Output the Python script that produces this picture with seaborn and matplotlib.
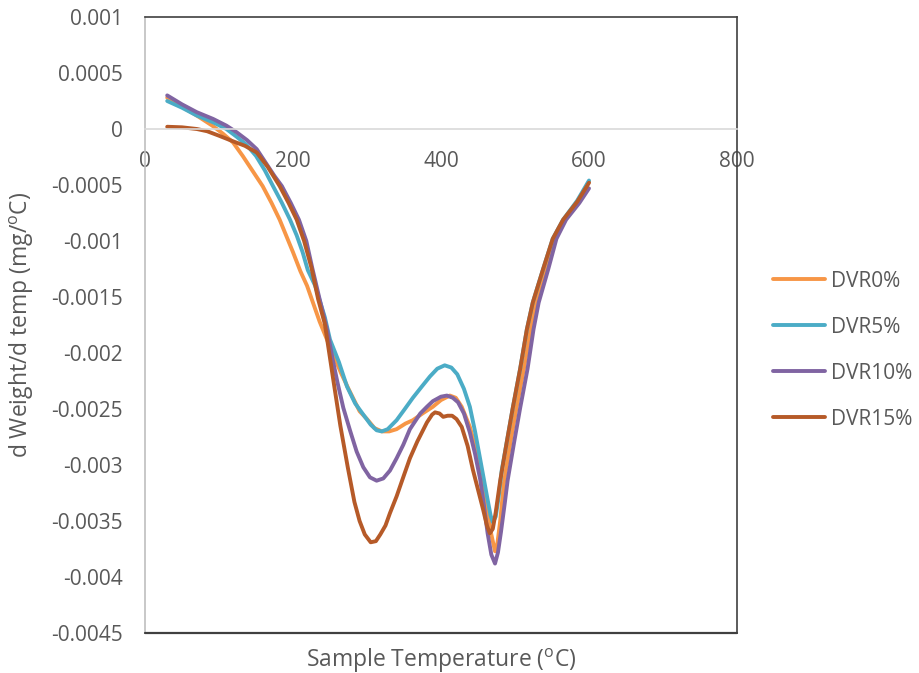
import matplotlib
matplotlib.use("Agg")
import matplotlib.pyplot as plt
import numpy as np
import pandas as pd
import seaborn as sns

series_names = ["DVR0%", "DVR5%", "DVR10%", "DVR15%"]
series_colors = ["#F79646", "#4BACC6", "#8064A2", "#B65A28"]

temp_dvr0 = [30, 50, 70, 92, 105, 119, 132, 145, 159, 171, 182, 200, 210, 219, 236, 254,
             265, 275, 290, 300, 310, 320, 330, 340, 352, 362, 375, 389, 400, 412, 420,
             428, 439, 447, 453, 458, 463, 468, 473, 476, 480, 485, 494, 502, 512, 521,
             528, 541, 553, 567, 585, 600]
dw_dvr0 = [0.00028, 0.0002, 0.00012, 0.000025, -0.00004, -0.00012, -0.00024, -0.00037,
           -0.00051, -0.00066, -0.00081, -0.0011, -0.00127, -0.0014, -0.00172, -0.00201,
           -0.00218, -0.00232, -0.00252, -0.00259, -0.00267, -0.0027, -0.0027, -0.00268,
           -0.00263, -0.0026, -0.00254, -0.00248, -0.00242, -0.00238, -0.0024, -0.00248,
           -0.00266, -0.00285, -0.00304, -0.00322, -0.0034, -0.00362, -0.00377, -0.00371,
           -0.0035, -0.00316, -0.00279, -0.00249, -0.00214, -0.00179, -0.00155, -0.00125,
           -0.00098, -0.00081, -0.00065, -0.00047]

temp_dvr5 = [30, 50, 70, 92, 110, 124, 137, 150, 162, 173, 185, 196, 205, 213, 220, 230,
             243, 250, 262, 273, 284, 295, 305, 313, 320, 328, 340, 350, 362, 374, 385,
             395, 405, 414, 422, 431, 439, 446, 453, 458, 463, 467, 470, 474, 478, 482,
             489, 497, 507, 516, 524, 538, 551, 565, 584, 600]
dw_dvr5 = [0.00025, 0.00019, 0.00012, 0.00006, 0.0, -0.00007, -0.00014, -0.00024,
           -0.00037, -0.00051, -0.00066, -0.00081, -0.00095, -0.0011, -0.00126, -0.0014,
           -0.00168, -0.00188, -0.00208, -0.0023, -0.00245, -0.00255, -0.00264, -0.00269,
           -0.0027, -0.00268, -0.0026, -0.00251, -0.0024, -0.0023, -0.00221, -0.00214,
           -0.00211, -0.00213, -0.00219, -0.00232, -0.00248, -0.0027, -0.00295, -0.00313,
           -0.00331, -0.00345, -0.00351, -0.00346, -0.00328, -0.00305, -0.00279, -0.00249,
           -0.00214, -0.00179, -0.00155, -0.00125, -0.00098, -0.00081, -0.00064, -0.00046]

temp_dvr10 = [30, 50, 70, 92, 110, 124, 138, 151, 163, 175, 185, 197, 208, 218, 226, 236,
              246, 254, 260, 268, 277, 286, 295, 304, 313, 322, 331, 340, 349, 358, 372,
              381, 389, 400, 408, 416, 423, 431, 439, 446, 453, 458, 463, 468, 473, 477,
              481, 486, 490, 499, 507, 517, 525, 532, 545, 556, 569, 587, 600]
dw_dvr10 = [0.0003, 0.00022, 0.00015, 0.00009, 0.00003, -0.00003, -0.0001, -0.00018,
            -0.0003, -0.00042, -0.00051, -0.00066, -0.00081, -0.001, -0.00124, -0.00152,
            -0.00179, -0.00207, -0.00226, -0.00249, -0.00269, -0.00288, -0.00302,
            -0.00311, -0.00314, -0.00312, -0.00305, -0.00294, -0.00282, -0.00268,
            -0.00254, -0.00248, -0.00243, -0.00239, -0.00238, -0.0024, -0.00244,
            -0.00254, -0.00271, -0.0029, -0.00313, -0.00336, -0.00361, -0.0038, -0.00388,
            -0.00378, -0.0036, -0.00335, -0.00314, -0.00279, -0.00249, -0.00214,
            -0.00179, -0.00155, -0.00125, -0.00098, -0.00081, -0.00066, -0.00053]

temp_dvr15 = [30, 50, 70, 84, 100, 119, 135, 151, 166, 182, 194, 205, 215, 225, 234, 243,
              254, 264, 274, 283, 290, 297, 305, 312, 318, 325, 331, 340, 350, 358, 368,
              381, 388, 392, 398, 403, 409, 415, 421, 428, 436, 443, 450, 457, 462, 466,
              470, 474, 480, 489, 497, 507, 516, 524, 538, 551, 565, 584, 600]
dw_dvr15 = [0.00002, 0.000015, 0.0, -0.00002, -0.00006, -0.00011, -0.00015, -0.00021,
            -0.00034, -0.00051, -0.00066, -0.00081, -0.001, -0.00124, -0.00152, -0.00174,
            -0.00222, -0.00265, -0.00302, -0.00333, -0.0035, -0.00362, -0.00369,
            -0.00368, -0.00362, -0.00354, -0.00343, -0.00328, -0.00309, -0.00294,
            -0.00279, -0.00262, -0.00255, -0.00253, -0.00254, -0.00257, -0.00256,
            -0.00256, -0.00259, -0.00266, -0.00283, -0.00304, -0.00322, -0.0034,
            -0.00354, -0.00361, -0.00357, -0.00342, -0.00314, -0.00279, -0.00249,
            -0.00214, -0.00179, -0.00155, -0.00125, -0.00098, -0.00081, -0.00065,
            -0.00048]

x_ticks = [0, 200, 400, 600, 800]
x_tick_labels = ["0", "200", "400", "600", "800"]
y_ticks = [0.001, 0.0005, 0, -0.0005, -0.001, -0.0015, -0.002, -0.0025, -0.003,
           -0.0035, -0.004, -0.0045]
y_tick_labels = ["0.001", "0.0005", "0", "-0.0005", "-0.001", "-0.0015", "-0.002",
                 "-0.0025", "-0.003", "-0.0035", "-0.004", "-0.0045"]

x_title = r"Sample Temperature ($\mathregular{^{o}}$C)"
y_title = r"d Weight/d temp (mg/$\mathregular{^{o}}$C)"

frames = []
for name, t, v in zip(series_names,
                      [temp_dvr0, temp_dvr5, temp_dvr10, temp_dvr15],
                      [dw_dvr0, dw_dvr5, dw_dvr10, dw_dvr15]):
    frames.append(pd.DataFrame({"temp": t, "dw": v, "series": name}))
df = pd.concat(frames, ignore_index=True)

sns.set_theme(style="white")
plt.rcParams["font.family"] = ["Open Sans", "DejaVu Sans"]
text_color = "#595959"

fig = plt.figure(figsize=(9.19, 6.73), dpi=100)
ax = fig.add_axes([145 / 919, 40 / 673, 592 / 919, 616 / 673])

sns.lineplot(data=df, x="temp", y="dw", hue="series", hue_order=series_names,
             palette=series_colors, estimator=None, sort=False, linewidth=2.8,
             ax=ax, legend=True)
for ln in ax.get_lines():
    ln.set_solid_capstyle("round")
    ln.set_solid_joinstyle("round")

ax.set_xlim(0, 800)
ax.set_ylim(-0.0045, 0.001)
ax.set_xticks(x_ticks)
ax.set_xticklabels(x_tick_labels)
ax.set_yticks(y_ticks)
ax.set_yticklabels(y_tick_labels)

ax.spines["bottom"].set_position(("data", 0))
ax.spines["bottom"].set_color("#D9D9D9")
ax.spines["bottom"].set_linewidth(1.2)
ax.spines["left"].set_color("#BFBFBF")
ax.spines["left"].set_linewidth(1.2)
for s in ["top", "right"]:
    ax.spines[s].set_visible(True)
    ax.spines[s].set_color("#404040")
    ax.spines[s].set_linewidth(1.2)
ax.axhline(-0.0045, color="#404040", linewidth=1.6, clip_on=False, zorder=3)

ax.tick_params(axis="both", length=0, labelsize=15, labelcolor=text_color)
ax.tick_params(axis="x", pad=16)
ax.tick_params(axis="y", pad=16)

ax.set_xlabel(x_title, fontsize=16.5, color=text_color)
ax.set_ylabel(y_title, fontsize=16.5, color=text_color)
ax.xaxis.set_label_coords(0.5, -0.022)
ax.yaxis.set_label_coords(-0.184, 0.5)
ax.grid(False)

handles, labels = ax.get_legend_handles_labels()
leg = ax.legend(handles, labels, loc="upper left", bbox_to_anchor=(754 / 919, 1 - 252 / 673),
                bbox_transform=fig.transFigure, frameon=False, fontsize=15,
                handlelength=2.5, handletextpad=0.3, labelspacing=1.2)
for t in leg.get_texts():
    t.set_color(text_color)
for h in leg.get_lines():
    h.set_linewidth(2.8)

fig.savefig("out.png", dpi=100)
